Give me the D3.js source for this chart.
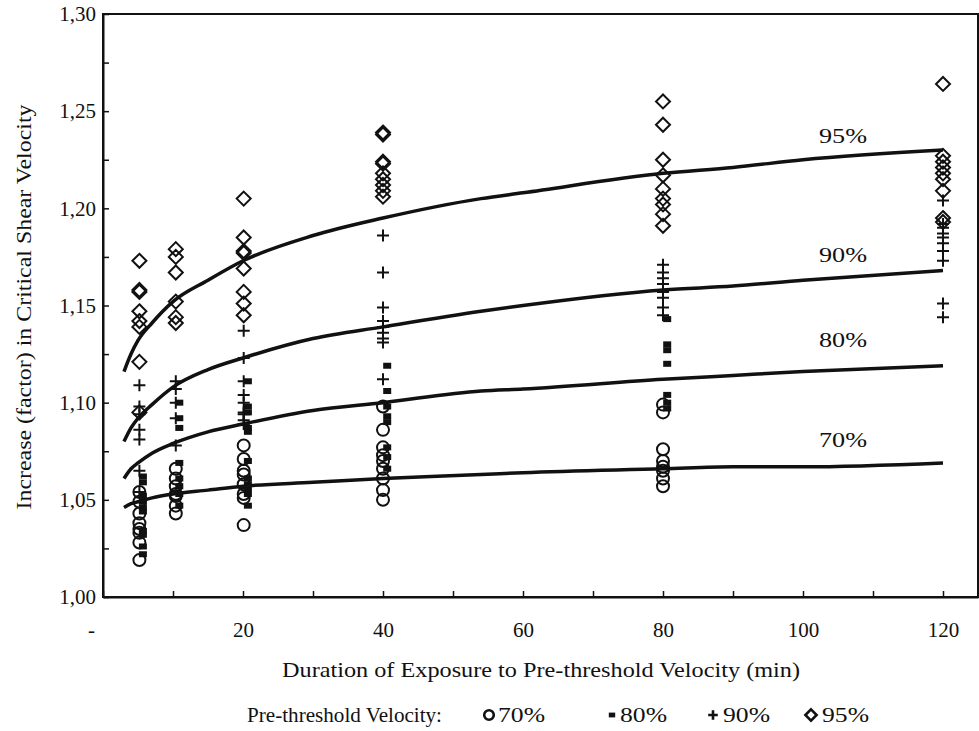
<!DOCTYPE html>
<html><head><meta charset="UTF-8">
<title>Critical shear velocity</title>
<script src="https://d3js.org/d3.v7.min.js"></script>
<style>
  body { margin: 0; background: #fff; }
  svg text { font-family: "Liberation Serif", "Times New Roman", Times, "Nimbus Roman", "DejaVu Serif", serif; fill: #111; }
</style>
</head>
<body>
<svg id="chart" width="979" height="731"></svg>
<script>
// fitted curves
var curveT = [3, 4, 5, 7, 10, 15, 20, 30, 40, 54, 60, 80, 90, 100, 120];
var curve70 = [1.046, 1.048, 1.049, 1.051, 1.053, 1.055, 1.057, 1.059, 1.061, 1.063, 1.064, 1.066, 1.067, 1.067, 1.069];
var curve80 = [1.061, 1.066, 1.069, 1.074, 1.079, 1.085, 1.089, 1.096, 1.100, 1.106, 1.107, 1.112, 1.114, 1.116, 1.119];
var curve90 = [1.080, 1.087, 1.092, 1.099, 1.108, 1.117, 1.123, 1.133, 1.139, 1.147, 1.150, 1.158, 1.160, 1.163, 1.168];
var curve95 = [1.116, 1.125, 1.132, 1.141, 1.152, 1.163, 1.173, 1.186, 1.195, 1.205, 1.208, 1.218, 1.221, 1.225, 1.230];
var curveLabels = ["70%", "80%", "90%", "95%"];

// measured points, one list per exposure duration
var durations = [5.2, 10.4, 20.1, 40, 80, 120];
var durations80 = [5.7, 10.9, 20.7, 40.6, 80.6, 120.6]; // squares sit a little to the right
var obs70 = [
  [1.054, 1.049, 1.043, 1.038, 1.035, 1.033, 1.028, 1.019],
  [1.066, 1.061, 1.057, 1.053, 1.052, 1.047, 1.043],
  [1.078, 1.071, 1.065, 1.063, 1.058, 1.053, 1.051, 1.037],
  [1.098, 1.086, 1.077, 1.073, 1.070, 1.066, 1.061, 1.055, 1.050],
  [1.099, 1.095, 1.076, 1.070, 1.067, 1.065, 1.061, 1.057],
  []
];
var obs80 = [
  [1.062, 1.059, 1.052, 1.049, 1.046, 1.044, 1.034, 1.032, 1.026, 1.022],
  [1.100, 1.092, 1.087, 1.069, 1.061, 1.057, 1.053, 1.047],
  [1.111, 1.098, 1.095, 1.087, 1.085, 1.070, 1.061, 1.058, 1.056, 1.053, 1.047],
  [1.119, 1.106, 1.098, 1.093, 1.090, 1.077, 1.072, 1.066],
  [1.143, 1.130, 1.127, 1.120, 1.104, 1.100, 1.097],
  []
];
var obs90 = [
  [1.109, 1.098, 1.094, 1.086, 1.081, 1.065, 1.054],
  [1.111, 1.107, 1.100, 1.092, 1.078],
  [1.137, 1.123, 1.111, 1.104, 1.100, 1.095, 1.094, 1.091, 1.089],
  [1.186, 1.167, 1.149, 1.142, 1.139, 1.136, 1.133, 1.131, 1.112],
  [1.171, 1.167, 1.164, 1.161, 1.157, 1.154, 1.149, 1.145],
  [1.204, 1.192, 1.190, 1.187, 1.185, 1.182, 1.178, 1.173, 1.151, 1.144]
];
var obs95 = [
  [1.173, 1.158, 1.157, 1.147, 1.142, 1.139, 1.121, 1.095],
  [1.179, 1.175, 1.167, 1.152, 1.144, 1.141],
  [1.205, 1.185, 1.178, 1.177, 1.169, 1.157, 1.151, 1.145],
  [1.239, 1.238, 1.224, 1.223, 1.218, 1.215, 1.212, 1.209, 1.206],
  [1.255, 1.243, 1.225, 1.217, 1.210, 1.205, 1.202, 1.197, 1.191],
  [1.264, 1.227, 1.224, 1.221, 1.218, 1.215, 1.209, 1.195, 1.193]
];

var xTicks = d3.range(0, 121, 10);
var yTicks = d3.range(1.0, 1.3001, 0.025);

var svg = d3.select("#chart");
var ink = "#111";

var x = d3.scaleLinear().domain([0, 125]).range([103, 978]);
var y = d3.scaleLinear().domain([1.0, 1.3]).range([597, 14]);

// frame
svg.append("rect")
  .attr("x", x(0)).attr("y", y(1.3))
  .attr("width", x(125) - x(0)).attr("height", y(1.0) - y(1.3))
  .attr("fill", "none").attr("stroke", ink).attr("stroke-width", 2);

// axes (ticks pointing inwards)
var fmtY = function(d) {
  var k = Math.round(d * 1000);
  return k % 50 === 0 ? d3.format(".2f")(d).replace(".", ",") : "";
};
var gx = svg.append("g").attr("transform", "translate(0," + y(1.0) + ")")
  .call(d3.axisBottom(x).tickValues(xTicks).tickSizeInner(-6).tickSizeOuter(0).tickPadding(25)
    .tickFormat(function(d) { return d === 0 ? "-" : (d % 20 === 0 ? d : ""); }));
var gy = svg.append("g").attr("transform", "translate(" + x(0) + ",0)")
  .call(d3.axisLeft(y).tickValues(yTicks).tickSizeInner(-6).tickSizeOuter(0).tickPadding(7)
    .tickFormat(fmtY));
[gx, gy].forEach(function(g) {
  g.attr("font-family", null);
  g.select(".domain").attr("stroke", ink).attr("stroke-width", 2);
  g.selectAll(".tick line").attr("stroke", ink).attr("stroke-width", 1.5);
  g.selectAll(".tick text").attr("font-size", 21);
});
gx.selectAll(".tick text").filter(function(d) { return d === 0; }).attr("dx", -12);

// markers
function drawMarkers(obs, xs, kind) {
  var pts = [];
  obs.forEach(function(vals, i) {
    vals.forEach(function(v) { pts.push([xs[i], v]); });
  });
  var g = svg.append("g");
  var sel = g.selectAll("g").data(pts).enter().append("g")
    .attr("transform", function(d) { return "translate(" + x(d[0]) + "," + y(d[1]) + ")"; });
  marker(sel, kind, 1, 2);
}
function marker(sel, kind, s, sw) {
  if (kind === "circle") {
    sel.append("circle").attr("r", 6 * s).attr("fill", "none").attr("stroke", ink).attr("stroke-width", sw);
  } else if (kind === "square") {
    sel.append("rect").attr("x", -4 * s).attr("y", -3 * s).attr("width", 8 * s).attr("height", 6 * s).attr("fill", ink);
  } else if (kind === "plus") {
    sel.append("path").attr("d", "M" + (-6 * s) + ",0H" + (6 * s) + "M0," + (-6 * s) + "V" + (6 * s))
      .attr("stroke", ink).attr("stroke-width", sw).attr("fill", "none");
  } else {
    sel.append("path").attr("d", "M0," + (-7 * s) + "L" + (7 * s) + ",0L0," + (7 * s) + "L" + (-7 * s) + ",0Z")
      .attr("stroke", ink).attr("stroke-width", sw).attr("fill", "none");
  }
}
drawMarkers(obs70, durations, "circle");
drawMarkers(obs80, durations80, "square");
drawMarkers(obs90, durations, "plus");
drawMarkers(obs95, durations, "diamond");

// fitted curves
var line = d3.line()
  .x(function(d) { return x(d[0]); })
  .y(function(d) { return y(d[1]); })
  .curve(d3.curveMonotoneX);
[curve70, curve80, curve90, curve95].forEach(function(c) {
  svg.append("path")
    .attr("d", line(curveT.map(function(t, j) { return [t, c[j]]; })))
    .attr("fill", "none").attr("stroke", ink).attr("stroke-width", 3.5);
});

// curve labels
var labelAt = [1.081, 1.132, 1.176, 1.237];
curveLabels.forEach(function(l, i) {
  svg.append("text").attr("x", 843).attr("y", y(labelAt[i]) + 7)
    .attr("text-anchor", "middle").attr("font-size", 21)
    .attr("textLength", 48).attr("lengthAdjust", "spacingAndGlyphs").text(l);
});

// axis titles
svg.append("text").attr("x", 541).attr("y", 677).attr("text-anchor", "middle")
  .attr("font-size", 22).attr("textLength", 518).attr("lengthAdjust", "spacingAndGlyphs")
  .text("Duration of Exposure to Pre-threshold Velocity (min)");
svg.append("text").attr("transform", "translate(31,307) rotate(-90)").attr("text-anchor", "middle")
  .attr("font-size", 20.5).attr("textLength", 405).attr("lengthAdjust", "spacingAndGlyphs")
  .text("Increase (factor) in Critical Shear Velocity");

// legend
var lg = svg.append("g").attr("transform", "translate(0,722)");
lg.append("text").attr("x", 247).attr("y", 0).attr("font-size", 21)
  .attr("textLength", 195).attr("lengthAdjust", "spacingAndGlyphs").text("Pre-threshold Velocity:");
var legendItems = [
  {kind: "circle", label: "70%", sx: 489, tx: 498},
  {kind: "square", label: "80%", sx: 612, tx: 620},
  {kind: "plus", label: "90%", sx: 713, tx: 723},
  {kind: "diamond", label: "95%", sx: 811, tx: 822}
];
legendItems.forEach(function(it) {
  var g = lg.append("g").attr("transform", "translate(" + it.sx + ",-7)");
  marker(g, it.kind, 0.8, 2.6);
  lg.append("text").attr("x", it.tx).attr("y", 0).attr("font-size", 22)
    .attr("textLength", 47).attr("lengthAdjust", "spacingAndGlyphs").text(it.label);
});
</script>
</body></html>
